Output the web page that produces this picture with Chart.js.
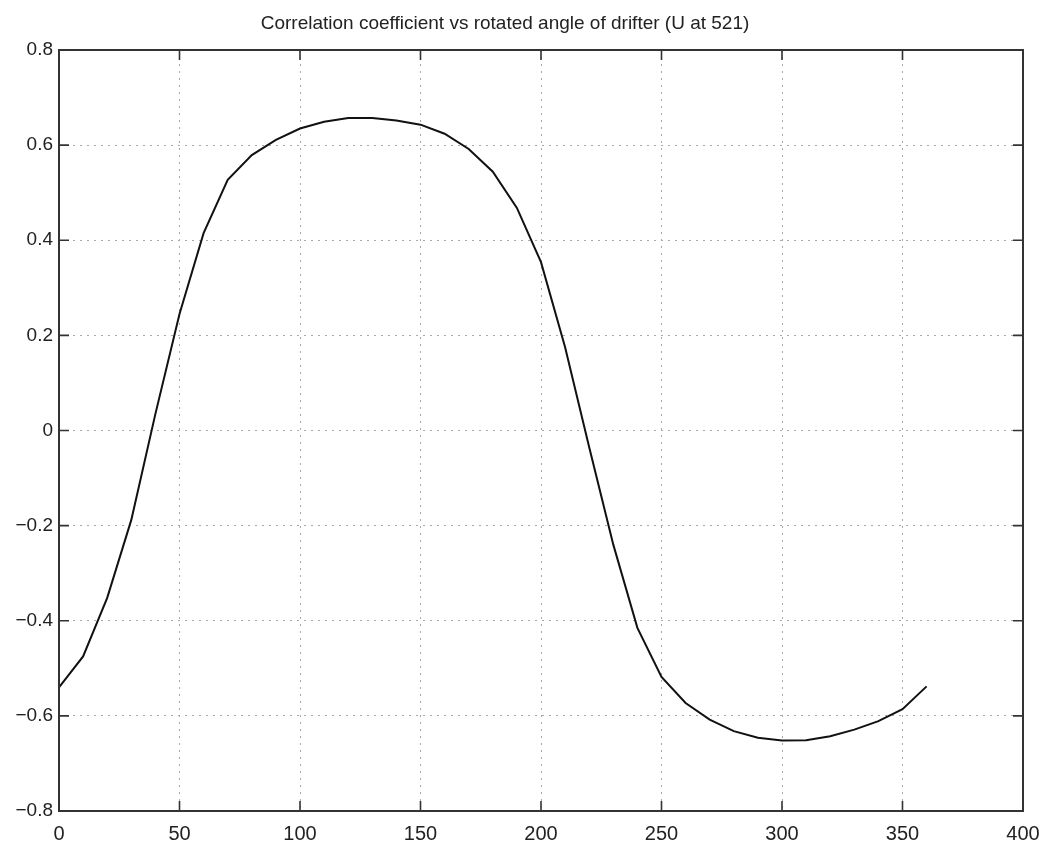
<!DOCTYPE html>
<html lang="en">
<head>
  <meta charset="UTF-8" />
  <title>Correlation coefficient vs rotated angle</title>
  <script src="https://cdn.jsdelivr.net/npm/chart.js"></script>
  <style>
    body {
      margin: 0;
      background: #fff;
    }
    #wrap {
      width: 1044px;
      height: 842px;
    }
  </style>
</head>
<body>
  <div id="wrap">
    <canvas id="corrChart" width="1044" height="842"></canvas>
  </div>

  <script>
    const titulo = 'Correlation coefficient vs rotated angle of drifter (U at 521)';

    // rotated angle (degrees)
    const angulos = [0, 10, 20, 30, 40, 50, 60, 70, 80, 90,
                     100, 110, 120, 130, 140, 150, 160, 170, 180, 190,
                     200, 210, 220, 230, 240, 250, 260, 270, 280, 290,
                     300, 310, 320, 330, 340, 350, 360];

    // correlation coefficient
    const correlacao = [-0.540, -0.475, -0.352, -0.188, 0.035, 0.245, 0.415, 0.527, 0.579, 0.611,
                        0.635, 0.649, 0.657, 0.657, 0.652, 0.643, 0.624, 0.592, 0.544, 0.468,
                        0.354, 0.175, -0.035, -0.240, -0.415, -0.518, -0.573, -0.608, -0.632, -0.646,
                        -0.652, -0.651, -0.643, -0.629, -0.611, -0.586, -0.538];

    const xTicks = [0, 50, 100, 150, 200, 250, 300, 350, 400];
    const yTicks = [-0.8, -0.6, -0.4, -0.2, 0, 0.2, 0.4, 0.6, 0.8];

    const fonte = "'Liberation Sans', Arial, Helvetica, sans-serif";

    function rotuloY(v) {
      if (Math.abs(v) < 1e-9) return '0';
      return (v < 0 ? '\u2212' : '') + Math.abs(v).toFixed(1);
    }

    // frame, inward ticks and title, matlab style
    const molduraPlugin = {
      id: 'moldura',
      afterDraw(chart) {
        const { ctx, chartArea: a, scales } = chart;
        const tam = 10;
        ctx.save();
        ctx.strokeStyle = '#333';
        ctx.lineWidth = 1.6;
        ctx.beginPath();
        xTicks.forEach(v => {
          const px = scales.x.getPixelForValue(v);
          ctx.moveTo(px, a.bottom); ctx.lineTo(px, a.bottom - tam);
          ctx.moveTo(px, a.top); ctx.lineTo(px, a.top + tam);
        });
        yTicks.forEach(v => {
          const py = scales.y.getPixelForValue(v);
          ctx.moveTo(a.left, py); ctx.lineTo(a.left + tam, py);
          ctx.moveTo(a.right, py); ctx.lineTo(a.right - tam, py);
        });
        ctx.stroke();
        ctx.lineWidth = 2;
        ctx.strokeRect(a.left, a.top, a.right - a.left, a.bottom - a.top);

        ctx.fillStyle = '#222';
        ctx.font = '19px ' + fonte;
        ctx.textAlign = 'center';
        ctx.textBaseline = 'middle';
        ctx.fillText(titulo, 505, 24);
        ctx.restore();
      }
    };

    new Chart(document.getElementById('corrChart').getContext('2d'), {
      type: 'line',
      data: {
        datasets: [{
          label: 'correlation',
          data: angulos.map((a, i) => ({ x: a, y: correlacao[i] })),
          borderColor: '#111',
          borderWidth: 2,
          backgroundColor: 'transparent',
          fill: false,
          tension: 0,
          pointRadius: 0
        }]
      },
      options: {
        responsive: false,
        animation: false,
        layout: { padding: { top: 50, right: 0, left: 0, bottom: 0 } },
        scales: {
          x: {
            type: 'linear',
            min: 0,
            max: 400,
            afterBuildTicks: s => { s.ticks = xTicks.map(v => ({ value: v })); },
            afterFit: s => { s.height = 31; s.paddingLeft = 0; s.paddingRight = 21; },
            grid: { color: '#a8a8a8', lineWidth: 1, drawTicks: false },
            border: { display: false, dash: [2, 5] },
            ticks: {
              padding: 11,
              color: '#222',
              font: { size: 20, family: fonte },
              maxRotation: 0,
              callback: v => String(Math.round(v))
            }
          },
          y: {
            min: -0.8,
            max: 0.8,
            afterBuildTicks: s => { s.ticks = yTicks.map(v => ({ value: v })); },
            afterFit: s => { s.width = 59; },
            grid: { color: '#a8a8a8', lineWidth: 1, drawTicks: false },
            border: { display: false, dash: [2, 5] },
            ticks: {
              padding: 6,
              color: '#222',
              font: { size: 19, family: fonte },
              callback: v => rotuloY(v)
            }
          }
        },
        plugins: {
          legend: { display: false },
          tooltip: { enabled: false }
        }
      },
      plugins: [molduraPlugin]
    });
  </script>
</body>
</html>
